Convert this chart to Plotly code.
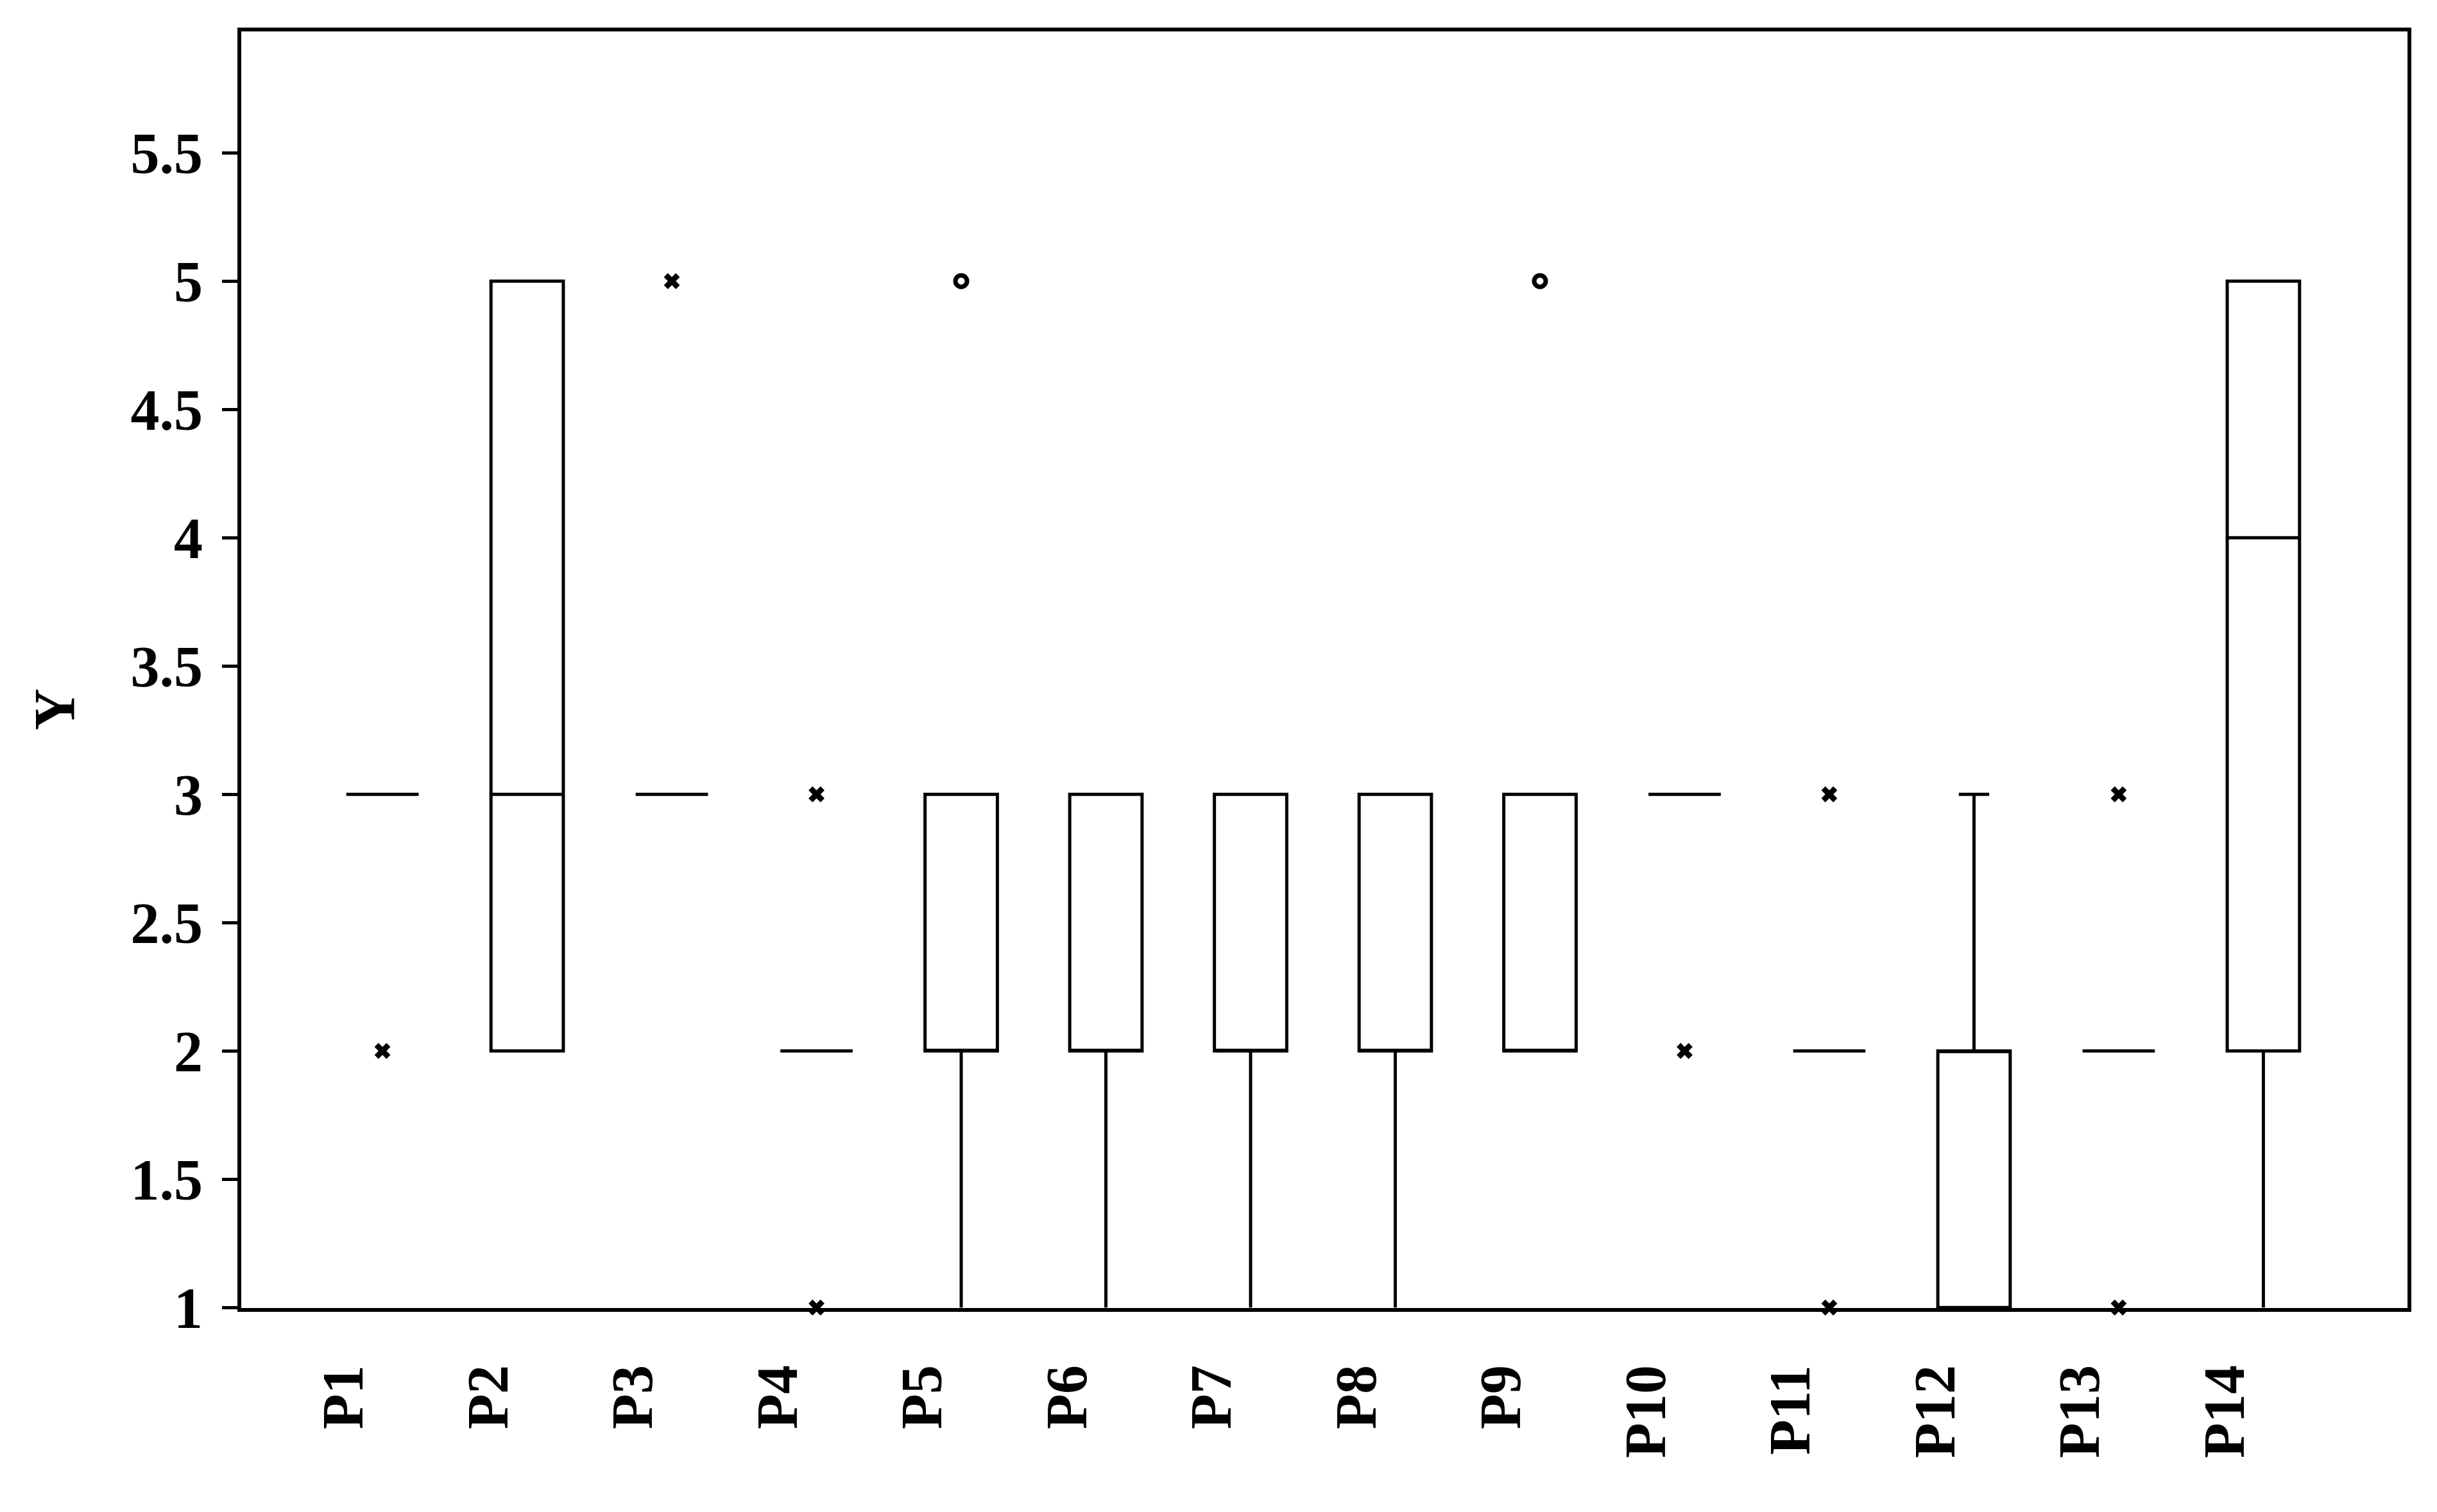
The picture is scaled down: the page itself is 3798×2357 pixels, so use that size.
import plotly.graph_objects as go

categories = ["P1", "P2", "P3", "P4", "P5", "P6", "P7", "P8", "P9", "P10", "P11", "P12", "P13", "P14"]
q1 =         [3, 2, 3, 2, 2, 2, 2, 2, 2, 3, 2, 1, 2, 2]
median =     [3, 3, 3, 2, 2, 2, 2, 2, 2, 3, 2, 2, 2, 4]
q3 =         [3, 5, 3, 2, 3, 3, 3, 3, 3, 3, 2, 2, 2, 5]
lowerfence = [3, 2, 3, 2, 1, 1, 1, 1, 2, 3, 2, 1, 2, 1]
upperfence = [3, 5, 3, 2, 3, 3, 3, 3, 3, 3, 2, 3, 2, 5]
# whisker caps are only drawn where the whisker ends inside the frame
capped =     [False] * 11 + [True] + [False] * 2

# outliers drawn as "x"
x_out_cat = ["P1", "P3", "P4", "P4", "P10", "P11", "P11", "P13", "P13"]
x_out_val = [2, 5, 3, 1, 2, 3, 1, 3, 1]
# outliers drawn as open circles
o_out_cat = ["P5", "P9"]
o_out_val = [5, 5]

yticks = [1, 1.5, 2, 2.5, 3, 3.5, 4, 4.5, 5, 5.5]
ytick_text = ["1", "1.5", "2", "2.5", "3", "3.5", "4", "4.5", "5", "5.5"]

FONT = "Liberation Serif"

fig = go.Figure()
for cap in (False, True):
    idx = [i for i, c in enumerate(capped) if c == cap]
    fig.add_trace(go.Box(
        x=[categories[i] for i in idx],
        q1=[q1[i] for i in idx], median=[median[i] for i in idx], q3=[q3[i] for i in idx],
        lowerfence=[lowerfence[i] for i in idx], upperfence=[upperfence[i] for i in idx],
        boxpoints=False, width=0.5, whiskerwidth=0.42 if cap else 0,
        line=dict(color="black", width=5),
        fillcolor="rgba(0,0,0,0)", showlegend=False, hoverinfo="skip",
    ))
fig.add_trace(go.Scatter(
    x=x_out_cat, y=x_out_val, mode="markers",
    marker=dict(symbol="x", size=22, color="black", line=dict(width=0)),
    cliponaxis=False, showlegend=False,
))
fig.add_trace(go.Scatter(
    x=o_out_cat, y=o_out_val, mode="markers",
    marker=dict(symbol="circle-open", size=18, color="black", line=dict(width=7, color="black")),
    cliponaxis=False, showlegend=False,
))

fig.update_layout(
    width=3798, height=2357,
    paper_bgcolor="white", plot_bgcolor="white",
    boxmode="overlay",
    margin=dict(l=368, r=54, t=41, b=326),
    font=dict(family=FONT, color="black", size=90, weight="bold"),
    showlegend=False,
)
fig.update_xaxes(
    type="category", categoryorder="array", categoryarray=categories,
    range=[-0.976, 13.996], showgrid=False, zeroline=False,
    showline=True, linecolor="black", linewidth=6, mirror=True,
    ticks="", tickangle=-90, ticklabelstandoff=47, ticklabelshift=-60,
    tickfont=dict(family=FONT, size=90, color="black", weight="bold"),
)
fig.update_yaxes(
    range=[0.998, 5.973], showgrid=False, zeroline=False,
    showline=True, linecolor="black", linewidth=6, mirror=True,
    ticks="outside", ticklen=24, tickwidth=5, tickcolor="black",
    tickvals=yticks, ticktext=ytick_text, ticklabelstandoff=12,
    tickfont=dict(family=FONT, size=90, color="black", weight="bold"),
)
fig.add_annotation(
    text="Y", xref="paper", yref="paper", x=-0.0860, y=0.469,
    showarrow=False, textangle=-90, xanchor="center", yanchor="middle",
    font=dict(family=FONT, size=90, color="black", weight="bold"),
)

fig.write_html("out.html")
